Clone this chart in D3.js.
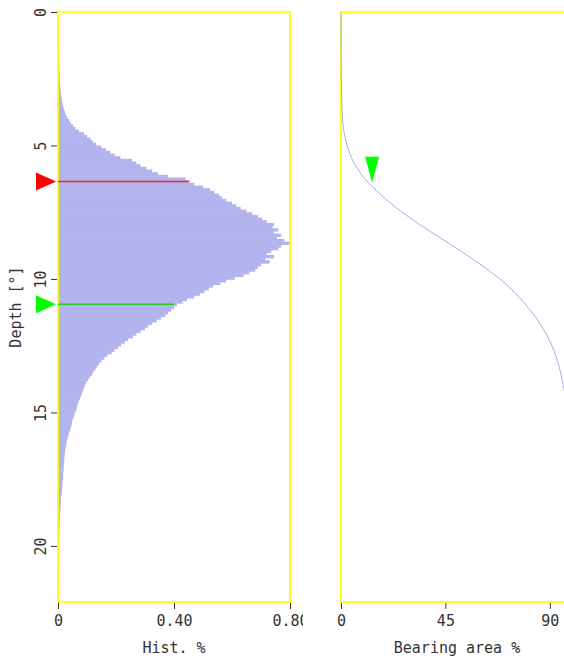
<!DOCTYPE html>
<html>
<head>
<meta charset="utf-8">
<script src="https://cdn.jsdelivr.net/npm/d3@7"></script>
<style>
  body { margin: 0; background: #fff; }
  svg text { font-family: "DejaVu Sans Mono", monospace; font-size: 15px; fill: #333; }
</style>
</head>
<body>
<div id="chart"></div>
<script>
// histogram, one value per 0.1 depth step starting at 0
const binStep = 0.1;
const histValues = [
  0, 0, 0, 0.001, 0.001, 0.002, 0.002, 0.002, 0.003, 0.002,
  0.003, 0.002, 0.003, 0.003, 0.003, 0.004, 0.003, 0.004, 0.004, 0.004,
  0.005, 0.004, 0.005, 0.006, 0.005, 0.006, 0.007, 0.007, 0.008, 0.009,
  0.010, 0.011, 0.013, 0.014, 0.016, 0.018, 0.021, 0.024, 0.027, 0.032,
  0.038, 0.044, 0.052, 0.060, 0.072, 0.090, 0.100, 0.112, 0.120, 0.132,
  0.150, 0.165, 0.180, 0.195, 0.215, 0.255, 0.270, 0.285, 0.305, 0.325,
  0.345, 0.380, 0.440, 0.455, 0.470, 0.500, 0.525, 0.540, 0.555, 0.565,
  0.580, 0.600, 0.615, 0.630, 0.650, 0.670, 0.690, 0.705, 0.720, 0.745,
  0.740, 0.760, 0.745, 0.770, 0.755, 0.780, 0.800, 0.770, 0.760, 0.735,
  0.720, 0.745, 0.715, 0.730, 0.700, 0.690, 0.680, 0.660, 0.640, 0.610,
  0.580, 0.560, 0.535, 0.520, 0.505, 0.490, 0.470, 0.445, 0.430, 0.410,
  0.400, 0.390, 0.380, 0.370, 0.355, 0.340, 0.325, 0.310, 0.300, 0.285,
  0.270, 0.258, 0.242, 0.230, 0.218, 0.207, 0.195, 0.185, 0.170, 0.160,
  0.150, 0.142, 0.135, 0.130, 0.122, 0.118, 0.110, 0.104, 0.098, 0.094,
  0.090, 0.086, 0.083, 0.080, 0.076, 0.072, 0.068, 0.066, 0.064, 0.060,
  0.057, 0.054, 0.050, 0.048, 0.047, 0.044, 0.041, 0.038, 0.035, 0.033,
  0.030, 0.029, 0.027, 0.026, 0.024, 0.023, 0.022, 0.022, 0.021, 0.020,
  0.019, 0.019, 0.018, 0.017, 0.018, 0.016, 0.015, 0.015, 0.014, 0.013,
  0.012, 0.011, 0.010, 0.010, 0.009, 0.008, 0.008, 0.007, 0.007, 0.006,
  0.006, 0.005, 0.005, 0.005, 0.004, 0.005, 0.004, 0.004, 0.004, 0.003,
  0.004, 0.003, 0.004, 0.003, 0.003, 0.004, 0.003, 0.003, 0.003, 0.002,
  0.003, 0.002, 0.002, 0.002, 0.001, 0.001, 0, 0, 0, 0
];

const depthTicks = [0, 5, 10, 15, 20];
const histTicks = [0, 0.4, 0.8];
const histTickLabels = ["0", "0.40", "0.80"];
const bearingTicks = [0, 45, 90];

// horizontal cut lines with their arrow markers
const cutDepths = [6.35, 10.95];
const cutValues = [0.45, 0.40];
const cutColors = ["#ff0000", "#00ff00"];
const cutLineColors = ["#ff2020", "#20d020"];

// marker on the bearing curve
const bearingMarkDepth = 6.4;
const bearingMarkValue = 13.4;

const W = 564, H = 662;
const plotTop = 12, plotBottom = 602;
const left1 = 58, right1 = 290;
const left2 = 341, right2 = 573;

const svg = d3.select("#chart").append("svg")
  .attr("width", W)
  .attr("height", H);

const y = d3.scaleLinear().domain([0, 22.1]).range([plotTop, plotBottom]);
const xHist = d3.scaleLinear().domain([0, 0.8]).range([left1, right1]);
const xBear = d3.scaleLinear().domain([0, 100]).range([left2, right2]);

const hist = histValues.map((v, i) => ({ depth: i * binStep, value: v }));

// bearing area = cumulative share of the histogram
const total = d3.sum(histValues);
let run = 0;
const bearing = hist.map(d => {
  run += d.value;
  return { depth: d.depth + binStep, value: run / total * 100 };
});
bearing.unshift({ depth: 0, value: 0 });

// ---- left panel ----
svg.append("clipPath").attr("id", "leftClip")
  .append("rect").attr("x", 0).attr("y", 0).attr("width", 303).attr("height", H);

const g1 = svg.append("g").attr("clip-path", "url(#leftClip)");

g1.selectAll(".bar")
  .data(hist)
  .enter().append("rect")
  .attr("class", "bar")
  .attr("x", xHist(0))
  .attr("y", d => y(d.depth))
  .attr("width", d => xHist(d.value) - xHist(0))
  .attr("height", d => y(d.depth + binStep) - y(d.depth) + 0.7)
  .attr("fill", "#b3b3ee");

g1.append("rect")
  .attr("x", left1).attr("y", plotTop)
  .attr("width", right1 - left1).attr("height", plotBottom - plotTop)
  .attr("fill", "none")
  .attr("stroke", "#ffff00")
  .attr("stroke-width", 1.8);

// cut lines + triangles
cutDepths.forEach((dep, i) => {
  const yy = y(dep);
  g1.append("line")
    .attr("x1", xHist(0)).attr("x2", xHist(cutValues[i]))
    .attr("y1", yy).attr("y2", yy)
    .attr("stroke", cutLineColors[i])
    .attr("stroke-width", 1.5);
  g1.append("path")
    .attr("d", `M36,${yy - 9} L36,${yy + 9} L56,${yy} Z`)
    .attr("fill", cutColors[i]);
});

const yAxis = d3.axisLeft(y).tickValues(depthTicks).tickSize(6).tickFormat(d3.format("d"));
const yAx = g1.append("g")
  .attr("transform", `translate(${left1 - 1},0)`)
  .call(yAxis);
yAx.select(".domain").remove();
yAx.selectAll("line").attr("stroke", "#333");
yAx.selectAll("text")
  .attr("x", null).attr("dy", null)
  .attr("transform", "translate(-16,0) rotate(-90)")
  .attr("text-anchor", "middle")
  .attr("dominant-baseline", "central")
  .style("font-size", "15px");

const xAxis1 = d3.axisBottom(xHist).tickValues(histTicks).tickSize(6)
  .tickFormat((d, i) => histTickLabels[i]);
const xAx1 = g1.append("g")
  .attr("transform", `translate(0,${plotBottom + 1})`)
  .call(xAxis1);
xAx1.select(".domain").remove();
xAx1.selectAll("line").attr("stroke", "#333");
xAx1.selectAll("text").attr("y", 12).attr("dy", "0.71em").style("font-size", "15px");

g1.append("text")
  .attr("x", (left1 + right1) / 2)
  .attr("y", 653)
  .attr("text-anchor", "middle")
  .text("Hist. %");

svg.append("text")
  .attr("transform", `translate(21,${(plotTop + plotBottom) / 2}) rotate(-90)`)
  .attr("text-anchor", "middle")
  .text("Depth [°]");

// ---- right panel ----
const g2 = svg.append("g");

g2.append("rect")
  .attr("x", left2).attr("y", plotTop)
  .attr("width", right2 - left2).attr("height", plotBottom - plotTop)
  .attr("fill", "none")
  .attr("stroke", "#ffff00")
  .attr("stroke-width", 1.8);

const line = d3.line()
  .x(d => xBear(d.value))
  .y(d => y(d.depth))
  .curve(d3.curveBasis);

g2.append("path")
  .datum(bearing)
  .attr("d", line)
  .attr("fill", "none")
  .attr("stroke", "#a8a8e8")
  .attr("stroke-width", 1);

const mx = xBear(bearingMarkValue), my = y(bearingMarkDepth);
g2.append("path")
  .attr("d", `M${mx - 7},${my - 26} L${mx + 7},${my - 26} L${mx},${my} Z`)
  .attr("fill", "#00ff00");

const xAxis2 = d3.axisBottom(xBear).tickValues(bearingTicks).tickSize(6).tickFormat(d3.format("d"));
const xAx2 = g2.append("g")
  .attr("transform", `translate(0,${plotBottom + 1})`)
  .call(xAxis2);
xAx2.select(".domain").remove();
xAx2.selectAll("line").attr("stroke", "#333");
xAx2.selectAll("text").attr("y", 12).attr("dy", "0.71em").style("font-size", "15px");

g2.append("text")
  .attr("x", (left2 + right2) / 2)
  .attr("y", 653)
  .attr("text-anchor", "middle")
  .text("Bearing area %");
</script>
</body>
</html>
